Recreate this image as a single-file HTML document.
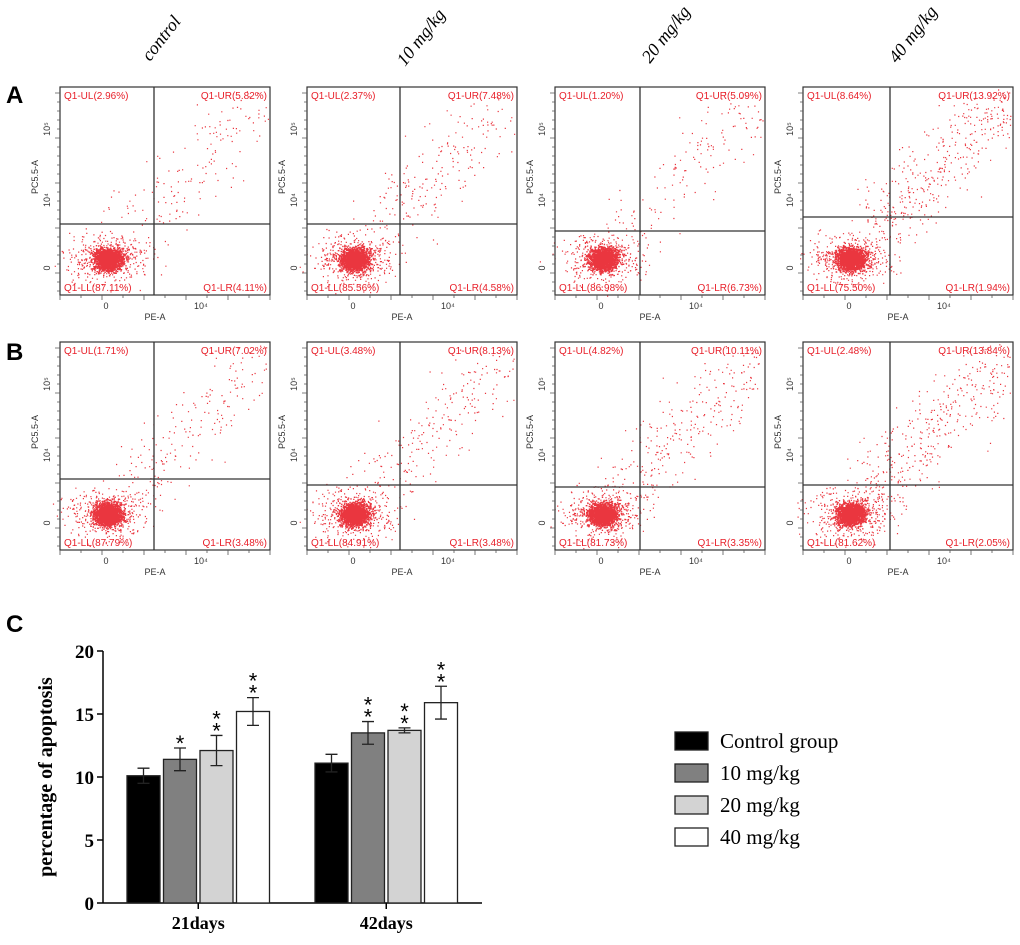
<!DOCTYPE html>
<html><head><meta charset="utf-8"><style>
body{margin:0;background:#fff;}
svg text{font-family:"Liberation Sans",sans-serif;}
</style></head><body>
<svg id="fig" width="1020" height="940" xmlns="http://www.w3.org/2000/svg">
<text x="6" y="103" font-size="24" font-weight="bold">A</text>
<text x="6" y="360" font-size="24" font-weight="bold">B</text>
<text x="6" y="632" font-size="24" font-weight="bold">C</text>
<g id="titles"></g>
<g id="flow"></g>
<g id="bars"></g>
</svg>
<script>
// ---- flow cytometry panel data ----
const colTitles = ["control","10 mg/kg","20 mg/kg","40 mg/kg"];
const rowA_UL = ["2.96","2.37","1.20","8.64"];
const rowA_UR = ["5.82","7.48","5.09","13.92"];
const rowA_LL = ["87.11","85.56","86.98","75.50"];
const rowA_LR = ["4.11","4.58","6.73","1.94"];
const rowB_UL = ["1.71","3.48","4.82","2.48"];
const rowB_UR = ["7.02","8.13","10.11","13.84"];
const rowB_LL = ["87.79","84.91","81.73","81.62"];
const rowB_LR = ["3.48","3.48","3.35","2.05"];
const gateX = [94, 93, 85, 87];
const gateYA = [137, 137, 144, 130];
const gateYB = [137, 143, 145, 143];

// ---- bar chart data ----
const groups = ["21days","42days"];
const seriesNames = ["Control group","10 mg/kg","20 mg/kg","40 mg/kg"];
const means = [[10.1,11.4,12.1,15.2],[11.1,13.5,13.7,15.9]];
const errs = [[0.6,0.9,1.2,1.1],[0.7,0.9,0.2,1.3]];
const stars = [["","*","**","**"],["","**","**","**"]];
const yTicks = [0,5,10,15,20];

const NS="http://www.w3.org/2000/svg";
function mk(tag, attrs, parent){const e=document.createElementNS(NS,tag);for(const k in attrs)e.setAttribute(k,attrs[k]);parent.appendChild(e);return e;}

const titles=document.getElementById('titles');
const tPos=[[150,62],[405,67],[650,64],[897,64]];
colTitles.forEach((t,i)=>{
  const e=mk('text',{x:tPos[i][0],y:tPos[i][1],'font-size':18,'font-style':'italic',transform:`rotate(-52 ${tPos[i][0]} ${tPos[i][1]})`,style:'font-family:"Liberation Serif",serif'},titles);
  
  
  e.textContent=t;
});

let seed=12345;function rnd(){seed=(seed*1103515245+12345)&0x7fffffff;return seed/0x7fffffff;}
function gauss(){return (rnd()+rnd()+rnd()+rnd()-2)/0.58;}

const flow=document.getElementById('flow');
const colX=[60,307,555,803];
const rowY=[87,342];
const W=210,H=208;
for(let r=0;r<2;r++)for(let c=0;c<4;c++){
  const x0=colX[c],y0=rowY[r];
  const g=mk('g',{},flow);
  
  
  const gx=x0+gateX[c], gy=y0+(r?gateYB[c]:gateYA[c]);
  const UR=parseFloat((r?rowB_UR:rowA_UR)[c]);
  let d='';
  const cx=x0+48, cy=y0+172;
  for(let k=0;k<1600;k++){const px=cx+gauss()*7,py=cy+gauss()*5.5;d+=`M${px.toFixed(1)} ${py.toFixed(1)}h1.4v1.4h-1.4z`;}
  for(let k=0;k<450;k++){const px=cx+gauss()*20,py=cy+gauss()*12;d+=`M${px.toFixed(1)} ${py.toFixed(1)}h1.2v1.2h-1.2z`;}
  const nd=Math.round(UR*30);
  for(let k=0;k<nd;k++){const t=rnd();const px=cx+15+t*150+gauss()*18,py=cy-20-t*145+gauss()*18;
    if(px>x0+2&&px<x0+W-2&&py>y0+2&&py<y0+H-10)d+=`M${px.toFixed(1)} ${py.toFixed(1)}h1.2v1.2h-1.2z`;}
  mk('path',{d:d,fill:'#e8202a','fill-opacity':0.9},g);
  mk('rect',{x:x0,y:y0,width:W,height:H,fill:'none',stroke:'#333','stroke-width':1.2},g);
  mk('line',{x1:gx,y1:y0,x2:gx,y2:y0+H,stroke:'#333','stroke-width':1.3},g);
  mk('line',{x1:x0,y1:gy,x2:x0+W,y2:gy,stroke:'#333','stroke-width':1.3},g);
  let tk='';
  for(let i=0;i<=10;i++){tk+=`M${x0+i*21} ${y0+H}v${i%2?3:5}`;}
  for(let i=0;i<=22;i++){tk+=`M${x0} ${y0+6+i*9}h-${i%5?3:5}`;}
  mk('path',{d:tk,stroke:'#555','stroke-width':0.8,fill:'none'},g);
  const lab=(xx,yy,txt,anchor,nm)=>{const e=mk('text',{x:xx,y:yy,'font-size':10,fill:'#e8202a','text-anchor':anchor},g);e.textContent=txt;};
  lab(x0+4,y0+12,`Q1-UL(${(r?rowB_UL:rowA_UL)[c]}%)`,'start','quadrant-ul-label');
  lab(x0+W-3,y0+12,`Q1-UR(${(r?rowB_UR:rowA_UR)[c]}%)`,'end','quadrant-ur-label');
  lab(x0+4,y0+H-4,`Q1-LL(${(r?rowB_LL:rowA_LL)[c]}%)`,'start','quadrant-ll-label');
  lab(x0+W-3,y0+H-4,`Q1-LR(${(r?rowB_LR:rowA_LR)[c]}%)`,'end','quadrant-lr-label');
  const ax=(xx,yy,txt,rot,nm,fs)=>{const e=mk('text',{x:xx,y:yy,'font-size':fs||9,fill:'#333','text-anchor':'middle'},g);if(rot)e.setAttribute('transform',`rotate(-90 ${xx} ${yy})`);e.textContent=txt;};
  ax(x0+46,y0+H+14,'0',false,'x-tick-0');
  ax(x0+141,y0+H+14,'10⁴',false,'x-tick-1e4');
  ax(x0+95,y0+H+25,'PE-A',false,'x-axis-title');
  ax(x0-10,y0+181,'0',true,'y-tick-0');
  ax(x0-10,y0+113,'10⁴',true,'y-tick-1e4');
  ax(x0-10,y0+42,'10⁵',true,'y-tick-1e5');
  ax(x0-22,y0+90,'PC5.5-A',true,'y-axis-title');
}

// ---- bar chart ----
const bars=document.getElementById('bars');
const X0=103, Y0=903, PX=12.6;
const yS=v=>Y0-v*PX;
const groupX=[127,315], bw=33, step=36.5;
const fills=['#000','#808080','#d3d3d3','#fff'];
mk('line',{x1:X0,y1:yS(20),x2:X0,y2:Y0,stroke:'#000','stroke-width':1.5},bars);
mk('line',{x1:X0,y1:Y0,x2:482,y2:Y0,stroke:'#000','stroke-width':1.5},bars);
yTicks.forEach(v=>{
  mk('line',{x1:X0-6,y1:yS(v),x2:X0,y2:yS(v),stroke:'#000','stroke-width':1.5},bars);
  const e=mk('text',{x:X0-9,y:yS(v)+7,'font-size':19,'font-weight':'bold','text-anchor':'end',style:'font-family:"Liberation Serif",serif'},bars);
  
  
  e.textContent=v;
});
const yt=mk('text',{x:52,y:777,'font-size':20,'font-weight':'bold','text-anchor':'middle',transform:'rotate(-90 52 777)',style:'font-family:"Liberation Serif",serif'},bars);


yt.textContent='percentage of apoptosis';
groups.forEach((gname,gi)=>{
  const cxm=groupX[gi]+(step*3+bw)/2;
  mk('line',{x1:cxm,y1:Y0,x2:cxm,y2:Y0+6,stroke:'#000','stroke-width':1.5},bars);
  const e=mk('text',{x:cxm,y:Y0+26,'font-size':18,'font-weight':'bold','text-anchor':'middle',style:'font-family:"Liberation Serif",serif'},bars);
  
  
  e.textContent=gname;
  means[gi].forEach((m,si)=>{
    const bx=groupX[gi]+si*step;
    const b=mk('rect',{x:bx,y:yS(m),width:bw,height:Y0-yS(m),fill:fills[si],stroke:'#222','stroke-width':1.3},bars);
    
    
    const mx=bx+bw/2, e1=yS(m+errs[gi][si]), e2=yS(m-errs[gi][si]);
    mk('path',{d:`M${mx} ${e1}V${e2}M${mx-6} ${e1}h12M${mx-6} ${e2}h12`,stroke:'#222','stroke-width':1.3,fill:'none'},bars);
    const s=stars[gi][si];
    for(let k=0;k<s.length;k++){
      const st=mk('text',{x:mx,y:e1+3-k*12,'font-size':22,'text-anchor':'middle'},bars);
      
      
      st.textContent='*';
    }
  });
});
const legY=[732,764,796,828];
seriesNames.forEach((n,i)=>{
  const r=mk('rect',{x:675,y:legY[i],width:33,height:18,fill:fills[i],stroke:'#222','stroke-width':1.3},bars);
  
  
  const t=mk('text',{x:720,y:legY[i]+16,'font-size':21,style:'font-family:"Liberation Serif",serif'},bars);
  
  
  t.textContent=n;
});
</script>
</body></html>
